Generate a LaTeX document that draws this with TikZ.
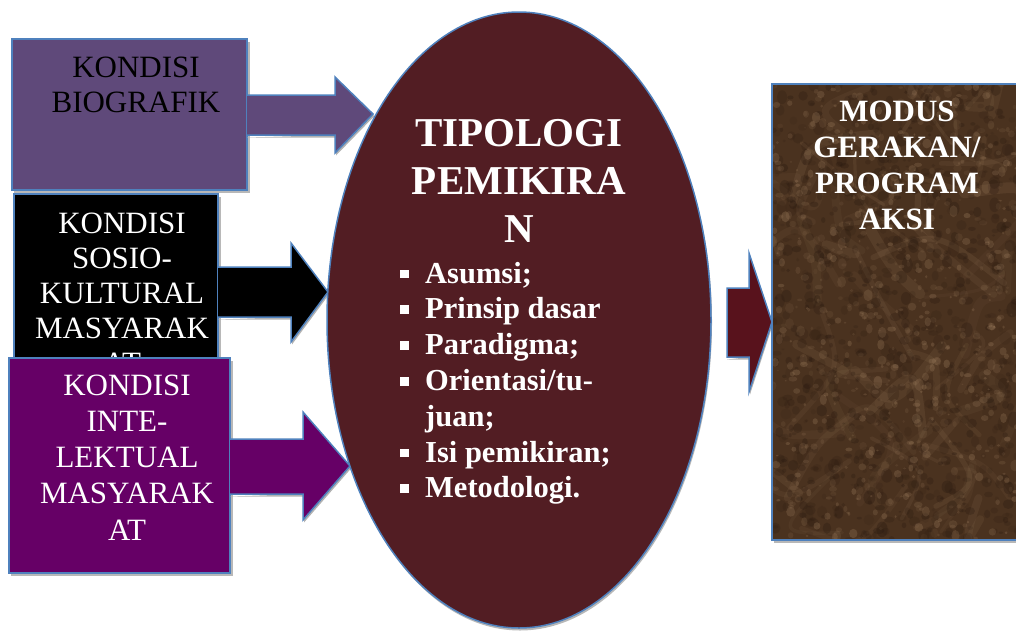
\documentclass[tikz,border=0pt]{standalone}
\usepackage{fontspec}
\setmainfont{Liberation Serif}
\usetikzlibrary{shapes.geometric}
\definecolor{bluebord}{HTML}{4F81BD}
\definecolor{purpA}{HTML}{5F497A}
\definecolor{purpB}{HTML}{660066}
\definecolor{ellcol}{HTML}{521D23}
\definecolor{midarrow}{HTML}{58121C}
\definecolor{marble}{HTML}{4A321F}
\definecolor{marbleL}{HTML}{A08060}
\definecolor{marbleD}{HTML}{2A1A10}
\newcommand{\bul}{\makebox[25pt][l]{\rule[5pt]{8.5pt}{8.5pt}}}
% fill, x0, shaft top, shaft bottom, head x, head top, head bottom, tip x, tip y
\newcommand{\fatarrow}[9]{%
  \fill[black!30] (#2,#4+2.5) -- (#5+1,#4+2.5) -- (#5+1,#7+2.5) -- (#8+1,#9+2.5) -- (#8,#9) -- (#5,#7) -- (#5,#4) -- cycle;
  \fill[#1] (#2,#3) -- (#5,#3) -- (#5,#6) -- (#8,#9) -- (#5,#7) -- (#5,#4) -- (#2,#4) -- cycle;
  \draw[borderline] (#2,#3) -- (#5,#3) -- (#5,#6) -- (#8,#9) -- (#5,#7) -- (#5,#4) -- (#2,#4);
}
\tikzset{
  borderline/.style={draw=bluebord, line width=1.5pt, line join=miter},
  boxshape/.style={borderline, inner sep=0pt, outer sep=0pt, anchor=north west},
  boxtext/.style={align=center, inner sep=0pt, anchor=north, font=\fontsize{31}{35.6}\selectfont},
  shadowfill/.style={fill=black!28},
}
\begin{document}
\begin{tikzpicture}[x=1pt,y=-1pt]
\useasboundingbox (0,0) rectangle (1016,630);

% ---- left boxes ----
\fill[shadowfill] (13.5,42) rectangle (249.5,193);
\node[boxshape, fill=purpA, minimum width=235pt, minimum height=151pt] (b1) at (12,39) {};
\fill[shadowfill] (15.5,197) rectangle (220.5,377);
\node[boxshape, fill=black, minimum width=204pt, minimum height=180pt] (b2) at (14,194) {};
\node[boxtext, text=white, font=\fontsize{31}{35}\selectfont] (t2) at (122,212.5) {KONDISI\\SOSIO-\\KULTURAL\\MASYARAK\\AT};
\fill[shadowfill] (10.5,361) rectangle (232.5,576);
\node[boxshape, fill=purpB, minimum width=221pt, minimum height=215pt] (b3) at (9,358) {};
\node[boxtext, text=black] (t1) at (136,56.5) {KONDISI\\BIOGRAFIK};
\node[boxtext, text=white, font=\fontsize{31}{36.2}\selectfont] (t3) at (127,374.5) {KONDISI\\INTE-\\LEKTUAL\\MASYARAK\\AT};

% ---- block arrows ----
\fatarrow{purpA}{247}{95}{135}{335}{77}{153}{373}{114}
\fatarrow{black}{218}{267}{317}{291}{243}{342}{328}{292}
\fatarrow{purpB}{230}{439}{494}{303}{412}{520}{350}{466}

% ---- ellipse ----
\fill[shadowfill] (520,322.5) ellipse (192 and 308);
\node[ellipse, borderline, fill=ellcol, minimum width=384pt, minimum height=616pt, inner sep=0pt] (ell) at (519,320) {};
\node[align=center, inner sep=0pt, anchor=north, text=white, font=\bfseries\fontsize{41}{48}\selectfont] (title) at (519,119.5) {TIPOLOGI\\PEMIKIRA\\N};
\node[align=left, inner sep=0pt, anchor=north west, text=white, font=\bfseries\fontsize{30.5}{35.8}\selectfont] (list) at (400,261.8)
  {\bul Asumsi;\\\bul Prinsip dasar\\\bul Paradigma;\\\bul Orientasi/tu-\\\hspace*{25pt}juan;\\\bul Isi pemikiran;\\\bul Metodologi.};

% ---- middle arrow ----
\fill[black!30] (727,359.5) -- (750,359.5) -- (750,394.5) -- (773,324) -- (772,322) -- (749,392) -- (749,357) -- cycle;
\fill[midarrow] (727,288) -- (749,288) -- (749,253) -- (772,322) -- (749,392) -- (749,357) -- (727,357) -- cycle;
\draw[borderline] (727,288) -- (749,288) -- (749,253) -- (772,322) -- (749,392) -- (749,357) -- (727,357) -- cycle;

% ---- right marble box ----
\fill[shadowfill] (773.5,87) rectangle (1020,543);
\begin{scope}
  \clip (772,84) rectangle (1022,540);
  \fill[marble] (772,84) rectangle (1022,540);
  \pgfmathsetseed{11}
  \foreach \i in {1,...,70}{
    \pgfmathsetmacro\xa{772+250*rnd}
    \pgfmathsetmacro\ya{84+456*rnd}
    \pgfmathsetmacro\xb{\xa+70*rand}
    \pgfmathsetmacro\yb{\ya+70*rand}
    \pgfmathsetmacro\xc{\xb+70*rand}
    \pgfmathsetmacro\yc{\yb+70*rand}
    \pgfmathsetmacro\op{0.06+0.10*rnd}
    \pgfmathsetmacro\lw{3+8*rnd}
    \draw[marbleL, opacity=\op, line width=\lw pt, line cap=round, line join=round] (\xa,\ya) .. controls (\xb,\yb) .. (\xc,\yc);
  }
  \foreach \i in {1,...,900}{
    \pgfmathsetmacro\xx{772+250*rnd}
    \pgfmathsetmacro\yy{84+456*rnd}
    \pgfmathsetmacro\rr{1.5+4.5*rnd}
    \pgfmathsetmacro\op{0.10+0.25*rnd}
    \fill[marbleD, opacity=\op] (\xx,\yy) ellipse ({\rr} and {\rr*(0.5+rnd)});
  }
  \foreach \i in {1,...,700}{
    \pgfmathsetmacro\xx{772+250*rnd}
    \pgfmathsetmacro\yy{84+456*rnd}
    \pgfmathsetmacro\rr{1+3.5*rnd}
    \pgfmathsetmacro\op{0.08+0.22*rnd}
    \fill[marbleL, opacity=\op] (\xx,\yy) ellipse ({\rr} and {\rr*(0.5+rnd)});
  }
\end{scope}
\node[boxshape, minimum width=250pt, minimum height=456pt] (b4) at (772,84) {};
\node[boxtext, text=white, font=\bfseries\fontsize{31}{36}\selectfont] (t4) at (897,101) {MODUS\\GERAKAN/\\PROGRAM\\AKSI};
\end{tikzpicture}
\end{document}
